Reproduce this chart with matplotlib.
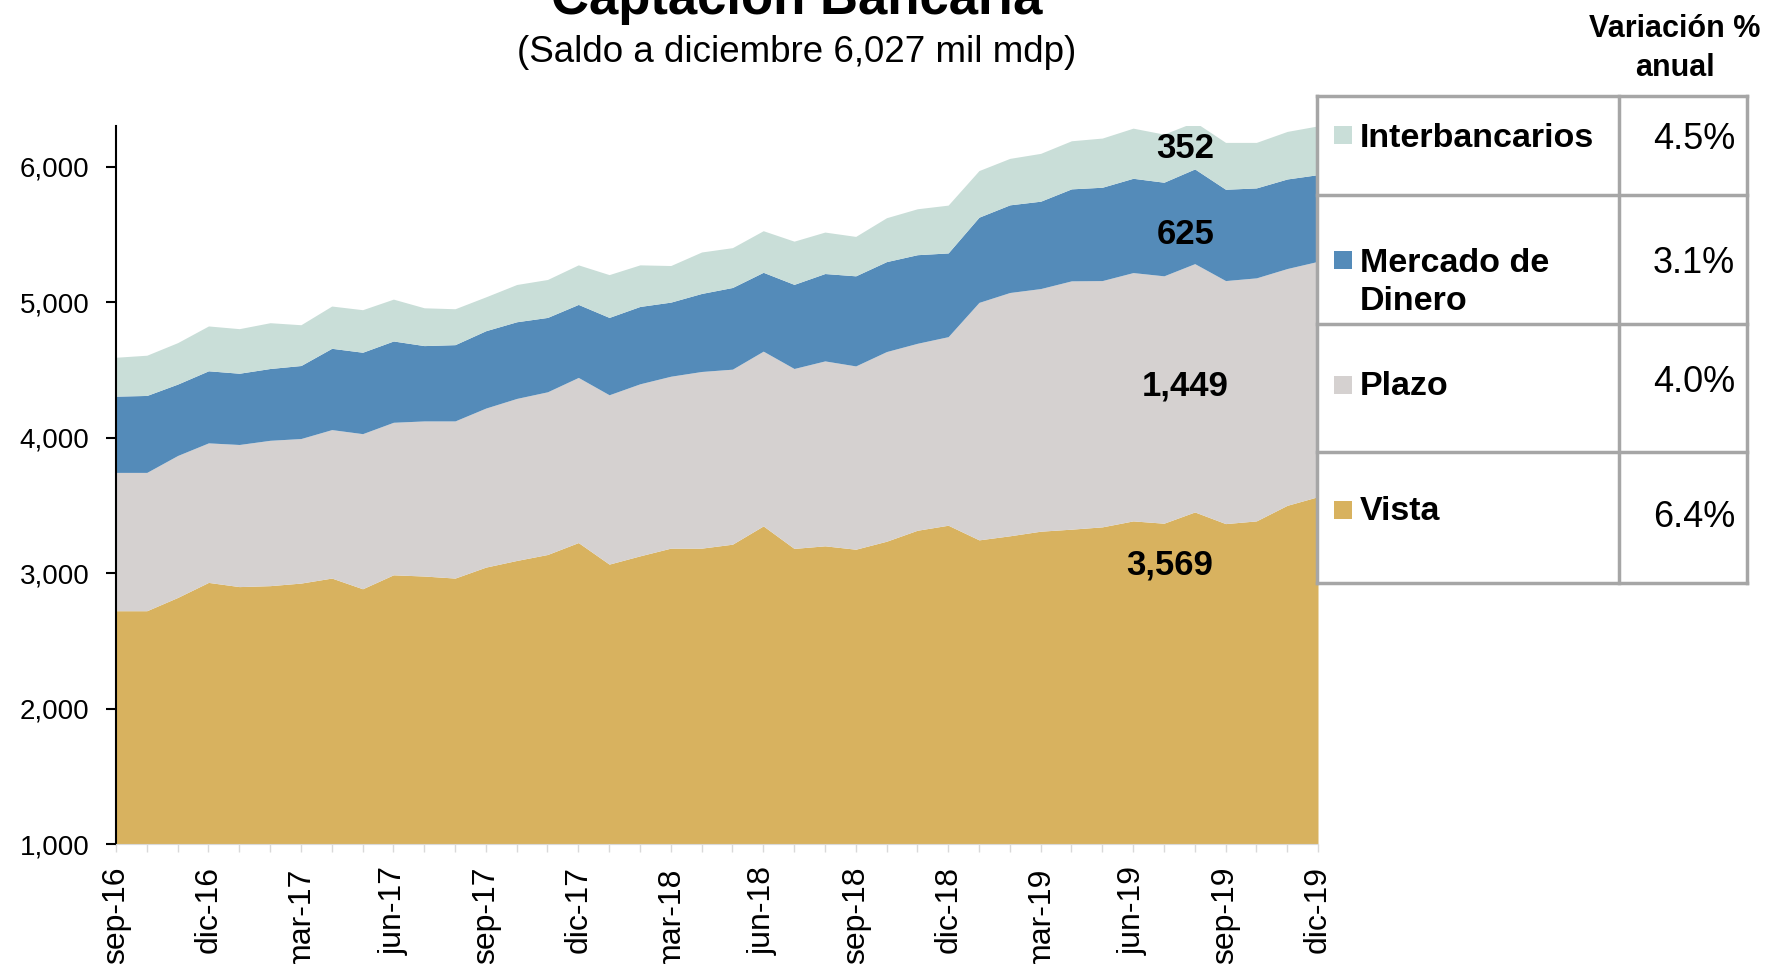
# Captacion bancaria - stacked area chart with side table
import matplotlib.pyplot as plt
from matplotlib.patches import Rectangle
import numpy as np

plt.rcParams['font.family'] = ['Liberation Sans', 'DejaVu Sans']

# months sep-16 .. dic-19
meses = ['sep-16', 'oct-16', 'nov-16', 'dic-16', 'ene-17', 'feb-17', 'mar-17', 'abr-17',
         'may-17', 'jun-17', 'jul-17', 'ago-17', 'sep-17', 'oct-17', 'nov-17', 'dic-17',
         'ene-18', 'feb-18', 'mar-18', 'abr-18', 'may-18', 'jun-18', 'jul-18', 'ago-18',
         'sep-18', 'oct-18', 'nov-18', 'dic-18', 'ene-19', 'feb-19', 'mar-19', 'abr-19',
         'may-19', 'jun-19', 'jul-19', 'ago-19', 'sep-19', 'oct-19', 'nov-19', 'dic-19']

# miles de millones de pesos
vista = [2722, 2722, 2820, 2931, 2900, 2907, 2926, 2963, 2884, 2987, 2978, 2963, 3044, 3093,
         3137, 3225, 3066, 3127, 3184, 3184, 3213, 3348, 3182, 3201, 3176, 3235, 3316, 3353,
         3245, 3275, 3309, 3324, 3341, 3385, 3368, 3451, 3365, 3385, 3500, 3564]
plazo = [1021, 1021, 1048, 1030, 1049, 1073, 1067, 1096, 1145, 1126, 1145, 1160, 1174, 1196,
         1201, 1219, 1250, 1270, 1269, 1304, 1292, 1290, 1328, 1365, 1353, 1400, 1380, 1392,
         1753, 1796, 1791, 1833, 1818, 1833, 1826, 1833, 1794, 1794, 1748, 1737]
mercado = [563, 568, 527, 532, 526, 530, 539, 600, 601, 600, 556, 563, 571, 566, 549, 539,
           571, 571, 547, 576, 603, 582, 621, 645, 665, 664, 654, 618, 629, 647, 645, 679,
           689, 696, 691, 699, 674, 664, 661, 640]
interbancarios = [287, 297, 306, 331, 329, 338, 301, 312, 314, 309, 279, 265, 250, 275, 280,
                  292, 316, 307, 270, 306, 294, 307, 319, 306, 291, 324, 339, 353, 344, 343,
                  353, 355, 363, 370, 355, 347, 346, 336, 351, 360]

series = ['Interbancarios', 'Mercado de\nDinero', 'Plazo', 'Vista']
variacion = ['4.5%', '3.1%', '4.0%', '6.4%']
etiquetas = ['352', '625', '1,449', '3,569']
colores = ['#C9DED8', '#548BB9', '#D5D1D0', '#D8B25F']

fig = plt.figure(figsize=(17.7, 9.64), dpi=100)
ax = fig.add_axes([116 / 1770, 1 - 844 / 964, (1318 - 116) / 1770, (844 - 126) / 964])

x = np.arange(len(meses))
capas = [vista, plazo, mercado, interbancarios]
base = np.zeros(len(meses))
for capa, col in zip(capas, colores[::-1]):
    top = base + np.array(capa)
    ax.fill_between(x, base, top, color=col, lw=0)
    base = top

ax.set_xlim(0, len(meses) - 1)
ax.set_ylim(1000, 6300)
ax.set_yticks(range(1000, 6001, 1000))
ax.set_yticklabels([f'{v:,}' for v in range(1000, 6001, 1000)], fontsize=20)
ax.set_xticks(x[::3])
ax.set_xticklabels(meses[::3], rotation=90, fontsize=23)
ax.set_xticks(x, minor=True)
ax.tick_params(axis='y', length=7, width=1.5, color='black', pad=12)
ax.tick_params(axis='x', which='both', length=6, width=1, color='#D9D9D9', pad=10)
for s in ['top', 'right']:
    ax.spines[s].set_visible(False)
ax.spines['left'].set_linewidth(1.5)
ax.spines['bottom'].set_color('#D9D9D9')

# value labels at the last observation
label_y = [6133, 5499, 4378, 3058]
label_x = [34.7, 34.7, 34.7, 34.2]
for t, lx, ly in zip(etiquetas, label_x, label_y):
    ax.text(lx, ly, t, ha='center', va='center', fontsize=25, fontweight='bold')

# overlay in pixel coordinates for titles and table
ov = fig.add_axes([0, 0, 1, 1], facecolor='none')
ov.set_xlim(0, 1770)
ov.set_ylim(964, 0)
ov.axis('off')

ov.text(797, 14, 'Captación Bancaria', ha='center', va='baseline', fontsize=38, fontweight='bold')
ov.text(797, 62, '(Saldo a diciembre 6,027 mil mdp)', ha='center', va='baseline', fontsize=26.5)
ov.text(1675, 37, 'Variación %', ha='center', va='baseline', fontsize=22, fontweight='bold')
ov.text(1675, 76, 'anual', ha='center', va='baseline', fontsize=22, fontweight='bold')

gris = '#A6A6A6'
for yy in [96, 195, 324, 452, 583]:
    ov.plot([1317, 1747], [yy, yy], color=gris, lw=2.5, solid_capstyle='projecting')
for xx in [1317, 1619, 1747]:
    ov.plot([xx, xx], [96, 583], color=gris, lw=2.5, solid_capstyle='projecting')

sq_y = [135, 260, 385, 510]
name_y = [147, 272, 395, 520]
pct_y = [149, 273, 392, 527]
for nombre, pct, col, sy, ny, py in zip(series, variacion, colores, sq_y, name_y, pct_y):
    ov.add_patch(Rectangle((1334, sy - 9), 18, 18, color=col, lw=0))
    for i, linea in enumerate(nombre.split('\n')):
        ov.text(1360, ny + 38 * i, linea, ha='left', va='baseline', fontsize=24.5,
                fontweight='bold')
    ov.text(1735, py, pct, ha='right', va='baseline', fontsize=26)

fig.savefig('out.png', dpi=100)
